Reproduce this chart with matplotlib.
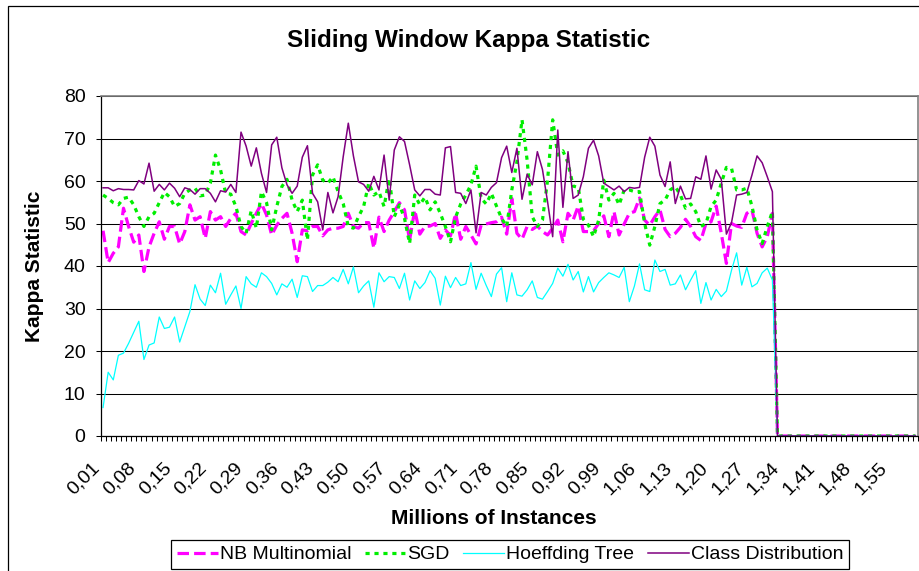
import numpy as np
import matplotlib
matplotlib.use("Agg")
import matplotlib.pyplot as plt
import matplotlib.patches as mpatches
from matplotlib.transforms import ScaledTranslation

plt.rcParams['font.family'] = ['Liberation Sans', 'DejaVu Sans']

# categories: millions of instances, 0.01 .. 1.60
instances_m = np.round(np.arange(1, 161) * 0.01, 2)

nb_multinomial = [
    48.3, 40.8, 43.0, 44.5, 53.6, 49.3, 45.6, 47.3, 38.7, 44.5, 47.7, 50.4, 46.3, 49.3, 49.3, 45.2,
    48.1, 54.4, 50.8, 51.6, 46.5, 52.8, 50.8, 51.6, 49.3, 51.2, 52.4, 48.1, 47.3, 50.0, 52.4, 54.7,
    52.0, 47.3, 49.6, 51.2, 52.4, 47.7, 41.0, 48.5, 48.3, 49.3, 49.3, 47.1, 48.5, 48.9, 48.9, 49.3,
    52.4, 49.3, 48.9, 50.2, 50.2, 44.2, 51.5, 48.1, 50.8, 52.8, 54.9, 53.2, 46.1, 53.2, 47.5, 49.3,
    49.4, 50.0, 46.5, 48.5, 47.1, 52.4, 46.3, 49.3, 47.3, 45.2, 49.6, 49.9, 50.2, 50.4, 51.5, 47.5,
    55.9, 47.7, 46.3, 49.3, 48.6, 49.4, 48.1, 47.3, 48.9, 50.8, 45.7, 52.4, 50.8, 54.1, 48.1, 48.1,
    48.3, 50.0, 51.8, 46.9, 52.8, 47.3, 49.9, 52.4, 52.8, 56.0, 50.8, 49.6, 51.6, 53.2, 48.6, 46.9,
    47.7, 49.1, 51.0, 49.3, 46.9, 46.0, 50.0, 50.4, 54.1, 47.7, 40.6, 50.0, 49.4, 49.1, 52.4, 53.2,
    47.7, 44.5, 46.9, 52.4,
] + [0] * 28

sgd = [
    56.7, 55.9, 54.9, 54.4, 55.9, 56.2, 54.4, 51.6, 49.3, 51.6, 52.4, 54.9, 57.3, 56.3, 54.0, 54.7,
    57.1, 57.9, 58.3, 56.5, 56.7, 59.5, 66.1, 62.6, 57.1, 56.9, 54.0, 49.3, 47.7, 53.0, 48.9, 57.5,
    54.9, 48.5, 54.0, 58.7, 60.4, 55.5, 52.8, 55.5, 46.1, 61.4, 63.8, 60.2, 59.5, 61.0, 57.5, 54.7,
    49.3, 48.9, 51.6, 54.0, 59.5, 56.7, 57.5, 54.0, 60.6, 51.6, 54.4, 51.2, 45.3, 56.7, 54.4, 56.2,
    53.2, 55.1, 52.4, 49.3, 45.7, 51.5, 54.6, 56.7, 59.1, 63.5, 55.9, 54.6, 57.1, 54.1, 51.2, 49.3,
    57.9, 64.5, 74.4, 64.9, 51.6, 49.3, 50.8, 60.2, 74.4, 66.1, 67.1, 64.3, 58.8, 58.5, 51.0, 49.6,
    46.9, 50.8, 60.2, 55.5, 57.1, 54.4, 57.9, 57.9, 57.5, 57.5, 50.0, 44.9, 49.3, 54.7, 55.5, 57.9,
    58.7, 56.7, 53.6, 54.6, 52.8, 49.3, 50.0, 54.0, 55.5, 59.5, 63.2, 63.0, 57.9, 57.9, 58.3, 54.1,
    48.5, 45.3, 49.3, 52.8,
] + [0] * 28

hoeffding_tree = [
    6.7, 15.0, 13.2, 19.0, 19.5, 21.8, 24.4, 27.0, 18.0, 21.4, 21.9, 28.0, 25.3, 25.6, 28.0, 22.1,
    25.7, 29.3, 35.6, 32.2, 30.7, 35.5, 33.7, 38.3, 31.0, 33.2, 35.3, 30.0, 37.5, 35.8, 35.0, 38.4,
    37.5, 35.9, 33.2, 35.8, 35.0, 36.9, 32.6, 37.7, 37.5, 34.0, 35.4, 35.4, 36.2, 37.3, 36.3, 39.2,
    35.8, 39.8, 33.7, 35.3, 36.5, 30.3, 38.4, 36.3, 37.5, 37.3, 34.7, 38.3, 32.0, 36.5, 34.7, 36.1,
    38.9, 37.1, 30.8, 37.6, 34.9, 37.3, 35.4, 35.8, 40.8, 34.5, 38.3, 35.4, 32.8, 38.1, 39.6, 31.6,
    38.4, 33.2, 32.9, 34.4, 36.5, 32.6, 32.2, 34.0, 35.9, 39.5, 37.6, 40.4, 36.7, 38.7, 33.9, 37.5,
    33.9, 36.1, 37.3, 38.4, 37.9, 37.3, 39.7, 31.6, 35.3, 40.5, 34.4, 34.0, 41.4, 38.7, 39.2, 35.5,
    35.8, 37.9, 34.4, 36.7, 38.9, 31.2, 36.1, 32.0, 34.5, 32.8, 34.1, 39.0, 43.1, 35.5, 39.7, 35.1,
    35.9, 38.4, 39.5, 36.7,
] + [0] * 28

class_distribution = [
    58.4, 58.4, 57.7, 58.2, 58.0, 58.0, 57.9, 60.1, 59.3, 64.2, 57.6, 59.2, 57.9, 59.5, 58.3, 56.3,
    58.4, 58.0, 56.9, 58.2, 58.2, 57.1, 55.1, 57.7, 57.4, 59.2, 57.3, 71.5, 68.2, 63.5, 67.8, 61.8,
    57.3, 68.5, 70.3, 63.1, 59.1, 57.1, 58.8, 65.6, 68.3, 57.1, 55.1, 48.5, 57.3, 52.5, 56.3, 65.7,
    73.6, 65.9, 59.8, 59.2, 57.6, 61.1, 57.9, 66.1, 55.5, 67.3, 70.4, 69.3, 63.8, 57.9, 56.5, 58.0,
    58.0, 56.9, 56.7, 67.8, 68.1, 57.3, 57.1, 54.7, 57.9, 47.8, 57.3, 56.7, 58.5, 59.6, 65.5, 68.2,
    62.0, 67.7, 55.7, 61.6, 59.1, 66.9, 62.7, 55.1, 46.9, 72.0, 53.8, 66.9, 55.9, 56.7, 61.0, 67.7,
    69.6, 65.9, 59.5, 58.7, 57.9, 58.8, 57.5, 58.5, 58.3, 58.5, 65.6, 70.3, 68.2, 61.4, 58.7, 64.5,
    54.7, 58.8, 55.8, 55.9, 61.0, 60.4, 65.9, 58.1, 62.6, 60.4, 47.5, 50.2, 56.7, 56.9, 57.3, 61.4,
    65.9, 64.3, 61.0, 57.5,
] + [0] * 28

W, H = 919, 571
fig = plt.figure(figsize=(W / 100, H / 100), dpi=100)
ax = fig.add_axes([100.5 / W, (H - 436) / H, (918 - 100.5) / W, 340 / H])

x = np.arange(len(instances_m))
ax.plot(x, nb_multinomial, color="#FF00FF", lw=2.3, dashes=(3.6, 1.6), label="NB Multinomial")
ax.plot(x, sgd, color="#00EE00", lw=2.3, dashes=(1.3, 1.5), label="SGD")
ax.plot(x, hoeffding_tree, color="#00FFFF", lw=0.9, label="Hoeffding Tree")
ax.plot(x, class_distribution, color="#800080", lw=1.1, label="Class Distribution")

ax.set_xlim(-0.5, len(x) - 0.5)
ax.set_ylim(0, 80)
ax.set_yticks(np.arange(0, 81, 10))
ax.grid(True, axis="y", color="black", lw=0.75)
ax.set_axisbelow(True)

for side in ["top", "right"]:
    ax.spines[side].set_color("#808080")
    ax.spines[side].set_linewidth(1.2)
for side in ["left", "bottom"]:
    ax.spines[side].set_color("black")
    ax.spines[side].set_linewidth(0.9)

# tick marks between categories, labels every 7th category
ax.set_xticks(np.arange(-0.5, len(x), 1.0), minor=True)
lab_idx = x[::7]
ax.set_xticks(lab_idx)
ax.set_xticklabels([f"{instances_m[i]:.2f}".replace(".", ",") for i in lab_idx],
                   rotation=45, ha="right", va="center", rotation_mode="anchor", fontsize=14)
ax.tick_params(axis="x", which="major", length=0, pad=21)
ax.tick_params(axis="x", which="minor", length=3.8, width=0.75, direction="out")
ax.tick_params(axis="y", length=3.8, width=0.75, pad=7, labelsize=14)
shift = ScaledTranslation(-6 / 100, 0, fig.dpi_scale_trans)
for lab in ax.get_xticklabels():
    lab.set_transform(lab.get_transform() + shift)

fig.text(469 / W, 1 - 40 / H, "Sliding Window Kappa Statistic", ha="center", va="center",
         fontsize=17.5, fontweight="bold")
fig.text(494 / W, 1 - 518 / H, "Millions of Instances", ha="center", va="center",
         fontsize=15, fontweight="bold")
fig.text(35 / W, 1 - 266 / H, "Kappa Statistic", ha="center", va="center", rotation=90,
         fontsize=15, fontweight="bold")

leg = fig.legend(loc="upper center", bbox_to_anchor=(510 / W, 1 - 540 / H), ncol=4, fontsize=14,
                 frameon=True, fancybox=False, edgecolor="black", framealpha=1,
                 handlelength=2.1, handletextpad=0.1, columnspacing=0.7, borderpad=0.3,
                 borderaxespad=0)
leg.get_frame().set_linewidth(0.9)

# chart area border (right and bottom edges fall outside the picture)
fig.patches.append(mpatches.Rectangle((8 / W, -0.1), 1.2, 1.1 - 6 / H, transform=fig.transFigure,
                                      fill=False, edgecolor="black", lw=0.9))

fig.savefig("out.png", dpi=100)
plt.close(fig)
